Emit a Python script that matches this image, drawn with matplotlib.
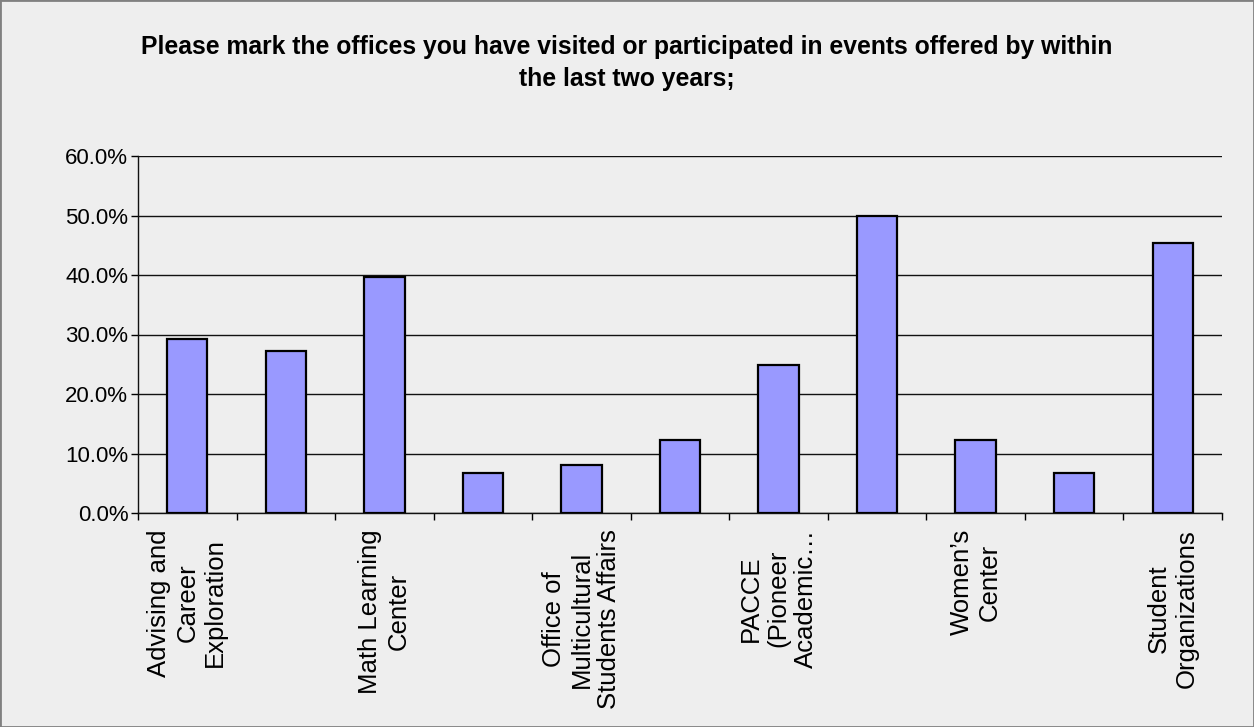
import matplotlib

matplotlib.use("Agg")

import matplotlib.pyplot as plt
from matplotlib.patches import Rectangle
from matplotlib.ticker import FuncFormatter, MultipleLocator

TITLE = (
    "Please mark the offices you have visited or participated in events offered by within\n"
    "the last two years;"
)

# every other category name is left blank on the axis
OFFICE_LABELS = [
    "Advising and\nCareer\nExploration",
    "",
    "Math Learning\nCenter",
    "",
    "Office of\nMulticultural\nStudents Affairs",
    "",
    "PACCE\n(Pioneer\nAcademic…",
    "",
    "Women’s\nCenter",
    "",
    "Student\nOrganizations",
]
SHARE_VISITED = [29.3, 27.2, 39.7, 6.7, 8.1, 12.3, 24.9, 49.9, 12.3, 6.7, 45.4]

BG = "#EEEEEE"
BAR_FILL = "#9999FF"

plt.rcParams["font.family"] = ["Liberation Sans", "DejaVu Sans"]

fig = plt.figure(figsize=(12.54, 7.27), dpi=100, facecolor=BG)
ax = fig.add_axes([138 / 1254, 1 - 513 / 727, (1222 - 138) / 1254, (513 - 156) / 727])
ax.set_facecolor(BG)

positions = list(range(len(SHARE_VISITED)))
ax.bar(positions, SHARE_VISITED, width=0.41, color=BAR_FILL, edgecolor="black",
       linewidth=1.6, zorder=3)

ax.set_xlim(-0.5, len(SHARE_VISITED) - 0.5)
ax.set_ylim(0, 60)
ax.yaxis.set_major_locator(MultipleLocator(10))
ax.yaxis.set_major_formatter(FuncFormatter(lambda v, _: f"{v:.1f}%"))
ax.grid(axis="y", color="#111111", linewidth=1.0, zorder=1)
ax.set_axisbelow(True)

for side in ("top", "right"):
    ax.spines[side].set_visible(False)
for side in ("left", "bottom"):
    ax.spines[side].set_color("#111111")
    ax.spines[side].set_linewidth(1.0)

ax.tick_params(axis="y", direction="out", length=5, width=1, pad=2, labelsize=16)
boundaries = [p - 0.5 for p in positions] + [positions[-1] + 0.5]
ax.set_xticks(boundaries)
ax.set_xticklabels([])
ax.tick_params(axis="x", direction="out", length=5, width=1)

for pos, label in zip(positions, OFFICE_LABELS):
    if label:
        ax.text(pos, -2.7, label, rotation=90, ha="center", va="top",
                multialignment="center", fontsize=18.5, linespacing=1.2,
                transform=ax.transData, clip_on=False)

fig.text(0.5, 1 - 63 / 727, TITLE, ha="center", va="center", fontsize=17.8,
         fontweight="bold", linespacing=1.45)

fig.patches.append(Rectangle((0, 0), 1, 1, transform=fig.transFigure, fill=False,
                             edgecolor="#808080", linewidth=2))

fig.savefig("out.png", dpi=100, facecolor=BG)
